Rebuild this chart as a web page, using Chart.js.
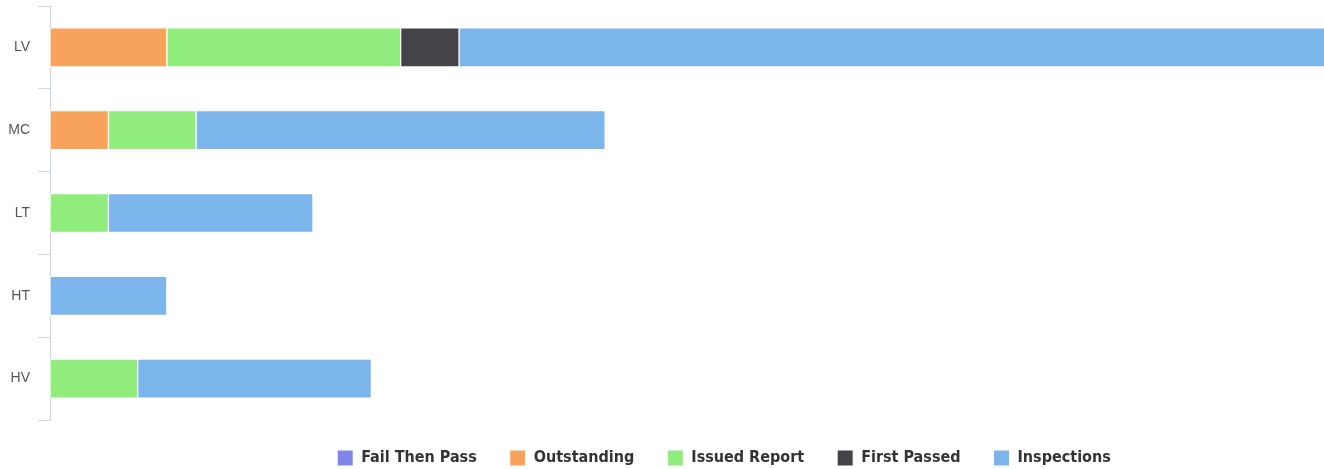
<!DOCTYPE html>
<html>
<head>
<meta charset="utf-8">
<script src="https://cdn.jsdelivr.net/npm/chart.js@4"></script>
<style>
  html, body { margin: 0; padding: 0; background: #fff; }
  #wrap { width: 1324px; height: 469px; }
</style>
</head>
<body>
<div id="wrap"><canvas id="chart"></canvas></div>
<script>
const categories = ["LV", "MC", "LT", "HT", "HV"];
const failThenPass = [0, 0, 0, 0, 0];
const outstanding = [2, 1, 0, 0, 0];
const issuedReport = [4, 1.5, 1, 0, 1.5];
const firstPassed = [1, 0, 0, 0, 0];
const inspections = [15, 7, 3.5, 2, 4];
// the LV bar runs past the right edge in the reference, so the axis stops short of its total
const xMax = 21.8;

// legend in the reference sits right of centre
const legendShift = { x: 62, y: -3 };
const legendOffsetPlugin = {
  id: "legendOffset",
  afterLayout(chart) {
    const lg = chart.legend;
    if (!lg) return;
    lg.left += legendShift.x;
    lg.right += legendShift.x;
    lg.top += legendShift.y;
    lg.bottom += legendShift.y;
  },
};

function series(label, data, color) {
  return {
    label: label,
    data: data,
    backgroundColor: color,
    borderColor: "#ffffff",
    borderWidth: 1,
    borderSkipped: false,
    barThickness: 39,
  };
}

new Chart(document.getElementById("chart"), {
  type: "bar",
  data: {
    labels: categories,
    datasets: [
      series("Fail Then Pass", failThenPass, "#8085e9"),
      series("Outstanding", outstanding, "#f7a35c"),
      series("Issued Report", issuedReport, "#90ed7d"),
      series("First Passed", firstPassed, "#434348"),
      series("Inspections", inspections, "#7cb5ec"),
    ],
  },
  options: {
    indexAxis: "y",
    responsive: true,
    maintainAspectRatio: false,
    animation: false,
    layout: { padding: { top: 6, left: 0, right: 0, bottom: -10 } },
    plugins: {
      tooltip: { enabled: false },
      legend: {
        position: "bottom",
        labels: {
          boxWidth: 16,
          boxHeight: 16,
          padding: 33,
          color: "#333333",
          font: { family: "'DejaVu Sans Condensed', 'DejaVu Sans', sans-serif", size: 16, weight: "bold" },
        },
      },
    },
    scales: {
      x: {
        stacked: true,
        display: false,
        min: 0,
        max: xMax,
      },
      y: {
        stacked: true,
        afterFit(scale) {
          scale.width = 50;
          scale.paddingTop = 0;
          scale.paddingBottom = 0;
        },
        grid: {
          offset: true,
          drawOnChartArea: false,
          drawTicks: true,
          tickLength: 12,
          color: "#ccd6eb",
        },
        border: { display: true, color: "#ccd6eb" },
        ticks: {
          padding: 8,
          color: "#555555",
          font: { family: "'Liberation Sans', Arial, sans-serif", size: 14 },
        },
      },
    },
  },
  plugins: [legendOffsetPlugin],
});
</script>
</body>
</html>
